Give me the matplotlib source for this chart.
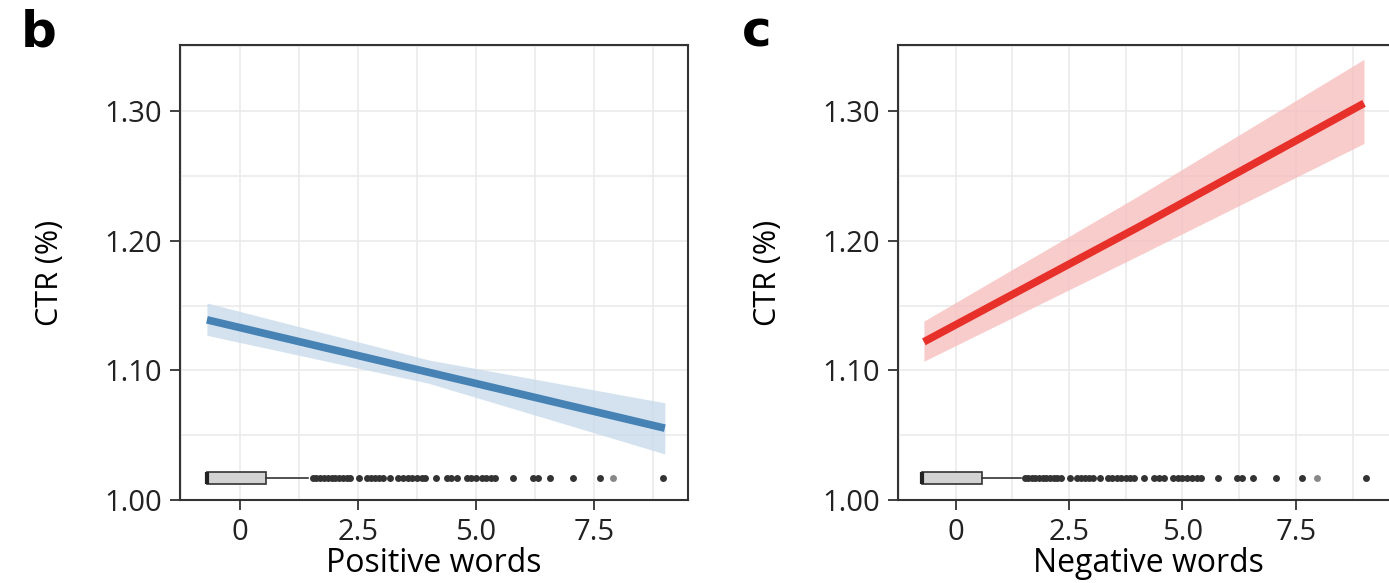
import numpy as np
import matplotlib
matplotlib.use("Agg")
import matplotlib.pyplot as plt

plt.rcParams['font.family'] = ['Open Sans', 'DejaVu Sans']

# fitted curves (x = standardised word count, y = CTR %)
pos_x = [-0.7, 4.0, 9.0]
pos_fit = [1.139, 1.0985, 1.0554]
pos_lo = [1.127, 1.090, 1.0355]
pos_hi = [1.152, 1.108, 1.075]

neg_x = [-0.7, 4.0, 9.0]
neg_fit = [1.122, 1.210, 1.306]
neg_lo = [1.107, 1.188, 1.275]
neg_hi = [1.138, 1.234, 1.340]

# boxplot summaries of the word counts
pos_box = dict(q1=-0.70, med=-0.70, q3=0.55, whislo=-0.70, whishi=1.44)
pos_out = [1.55, 1.62, 1.70, 1.78, 1.86, 1.94, 2.02, 2.10, 2.18, 2.26, 2.33, 2.52,
           2.69, 2.78, 2.87, 2.95, 3.03, 3.18, 3.35, 3.45, 3.55, 3.65, 3.75, 3.85, 3.92,
           4.15, 4.39, 4.48, 4.60, 4.81, 4.90, 5.00, 5.12, 5.22, 5.32, 5.40,
           5.78, 6.21, 6.32, 6.57, 7.06, 7.63, 8.96]
pos_light = [7.90]

neg_box = dict(q1=-0.73, med=-0.73, q3=0.58, whislo=-0.73, whishi=1.45)
neg_out = [1.52, 1.60, 1.68, 1.76, 1.84, 1.92, 2.00, 2.08, 2.16, 2.24, 2.32, 2.52,
           2.68, 2.77, 2.86, 2.95, 3.03, 3.18, 3.35, 3.45, 3.55, 3.65, 3.75, 3.85, 3.93,
           4.15, 4.38, 4.48, 4.60, 4.80, 4.90, 5.00, 5.10, 5.20, 5.32, 5.40,
           5.78, 6.20, 6.32, 6.55, 7.05, 7.64, 9.05]
neg_light = [7.96]

xticks = [0, 2.5, 5.0, 7.5]
xtick_labels = ['0', '2.5', '5.0', '7.5']
yticks = [1.00, 1.10, 1.20, 1.30]
ytick_labels = ['1.00', '1.10', '1.20', '1.30']

fig = plt.figure(figsize=(13.89, 5.83), dpi=100)
ax1 = fig.add_axes([0.1296, 0.1424, 0.3657, 0.7804])
ax2 = fig.add_axes([0.6465, 0.1424, 0.3600, 0.7804])

panels = [
    (ax1, 'Positive words', pos_x, pos_fit, pos_lo, pos_hi, '#4682b4', '#c6d9ea',
     pos_box, pos_out, pos_light, (-1.27, 9.49)),
    (ax2, 'Negative words', neg_x, neg_fit, neg_lo, neg_hi, '#e8302a', '#f7bcbc',
     neg_box, neg_out, neg_light, (-1.27, 9.75)),
]

for ax, xlabel, x, fit, lo, hi, col, band, box, out, light, xlim in panels:
    ax.set_xlim(*xlim)
    ax.set_ylim(1.0, 1.351)

    ax.set_xticks(xticks)
    ax.set_xticklabels(xtick_labels)
    ax.set_xticks(np.arange(-1.25, 10, 2.5), minor=True)
    ax.set_yticks(yticks)
    ax.set_yticklabels(ytick_labels)
    ax.set_yticks([1.05, 1.15, 1.25, 1.35], minor=True)
    ax.grid(True, which='both', color='#ebebeb', lw=1.2)
    ax.set_axisbelow(True)
    ax.tick_params(which='major', length=7, width=1.3, color='#333333',
                   labelsize=21, labelcolor='#222222', pad=6)
    ax.tick_params(which='minor', length=0)
    for s in ax.spines.values():
        s.set_color('#333333')
        s.set_linewidth(1.5)

    ax.fill_between(x, lo, hi, color=band, alpha=0.75, lw=0)
    ax.plot(x, fit, color=col, lw=5.5, solid_capstyle='butt')

    stats = dict(box, fliers=out)
    ax.bxp([stats], positions=[1.017], vert=False, widths=0.0095, patch_artist=True,
           showcaps=False, manage_ticks=False,
           boxprops=dict(facecolor='#d3d3d3', edgecolor='#333333', lw=1.2),
           medianprops=dict(color='#222222', lw=3),
           whiskerprops=dict(color='#333333', lw=1.2),
           flierprops=dict(marker='o', markersize=5, markerfacecolor='#333333',
                           markeredgecolor='none'))
    ax.plot(light, [1.017] * len(light), 'o', ms=5, color='#888888', mec='none')

    ax.set_xlabel(xlabel, fontsize=23, labelpad=0)
    ax.set_ylabel('CTR (%)', fontsize=22, labelpad=28)

fig.text(0.015, 0.92, 'b', fontsize=36, fontweight='heavy', fontfamily='DejaVu Sans')
fig.text(0.534, 0.92, 'c', fontsize=36, fontweight='heavy', fontfamily='DejaVu Sans')

fig.savefig('out.png', dpi=100)
